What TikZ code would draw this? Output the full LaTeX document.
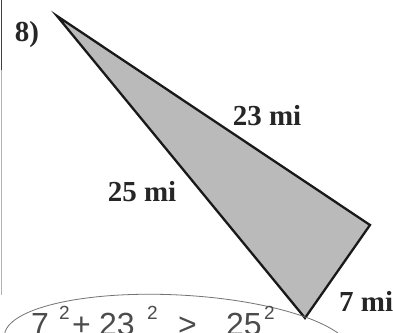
\documentclass[tikz,border=0pt]{standalone}
\usepackage{fontspec}
\setmainfont{Liberation Serif}
\newfontfamily\handfont{Liberation Sans}
\begin{document}
\begin{tikzpicture}[x=1pt,y=-1pt,
  lbl/.style={font=\fontsize{29}{29}\selectfont\bfseries, text=black!85, inner sep=0pt},
  hand/.style={font=\handfont\fontsize{32}{32}\selectfont, text=black!70, inner sep=0pt, anchor=base west},
  handsup/.style={font=\handfont\fontsize{19}{19}\selectfont, text=black!70, inner sep=0pt, anchor=base west}]
\useasboundingbox (0,0) rectangle (393,332);
\fill[white] (0,0) rectangle (393,332);
% left margin line
\draw[black!75, line width=1.6pt] (1.5,0) -- (1.5,70);
\draw[black!30, line width=1.2pt] (1.5,70) -- (1.5,295);
% triangle
\coordinate (A) at (57,16);
\coordinate (B) at (370,225);
\coordinate (C) at (305,318);
\filldraw[fill=black!27, draw=black!90, line width=2.3pt, line join=miter] (A) -- (B) -- (C) -- cycle;
% labels
\node[lbl] (n8) at (27,35) {8)};
\node[lbl] (l23) at (267,116) {23 mi};
\node[lbl] (l25) at (142,192) {25 mi};
\node[lbl, anchor=west] (l7) at (339,301) {7 mi};
% handwritten work
\draw[black!55, line width=0.8pt, rotate around={-3:(178,345)}] (178,345) ellipse [x radius=174, y radius=50];
\node[hand] (h7) at (31,335) {7};
\node[handsup] (h7s) at (59,319) {2};
\node[hand] (hp) at (72,335) {+};
\node[hand] (h23) at (99,335) {23};
\node[handsup] (h23s) at (147,319) {2};
\node[hand] (hgt) at (178,335) {>};
\node[hand] (h25) at (226,335) {25};
\node[handsup] (h25s) at (264,319) {2};
\end{tikzpicture}
\end{document}
